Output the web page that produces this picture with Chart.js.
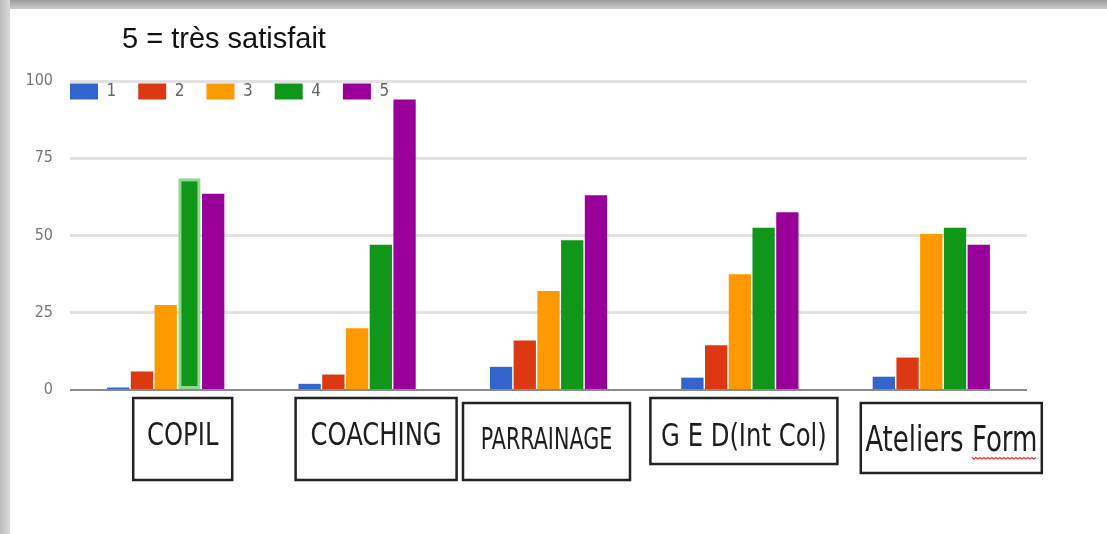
<!DOCTYPE html>
<html>
<head>
<meta charset="utf-8">
<script src="https://cdn.jsdelivr.net/npm/chart.js@4/dist/chart.umd.min.js"></script>
<style>
  body { margin: 0; background: #fff; }
  #wrap { position: relative; width: 1107px; height: 534px; overflow: hidden; background: #fff; }
  #title { position: absolute; left: 122px; top: 24px; font: 29px/29px 'Liberation Sans', Arial, sans-serif; color: #111; white-space: nowrap; }
  .edgeTop { position: absolute; left: 0; top: 0; width: 1107px; height: 9px; background: linear-gradient(#9c9c9c, #cdcdcd); }
  .edgeLeft { position: absolute; left: 0; top: 0; width: 10px; height: 534px; background: linear-gradient(90deg, #bcbcbc, #dadada); }
  canvas { position: absolute; left: 0; top: 0; }
</style>
</head>
<body>
<div id="wrap">
  <canvas id="chart" width="1107" height="534"></canvas>
  <div id="title">5 = très satisfait</div>
  <div class="edgeTop"></div>
  <div class="edgeLeft"></div>
</div>
<script>
const categories = ['COPIL', 'COACHING', 'PARRAINAGE', 'G E D(Int Col)', 'Ateliers Form'];
const seriesNames = ['1', '2', '3', '4', '5'];
const series1 = [0.8, 2, 7.5, 4, 4.3];
const series2 = [6, 5, 16, 14.5, 10.5];
const series3 = [27.5, 20, 32, 37.5, 50.5];
const series4 = [68.5, 47, 48.5, 52.5, 52.5];
const series5 = [63.5, 94, 63, 57.5, 47];
const yTicks = [0, 25, 50, 75, 100];

const colors = ['#3366cc', '#dc3912', '#ff9900', '#109618', '#990099'];
const narrow = "'Liberation Sans Narrow', 'Arial Narrow', 'DejaVu Sans Condensed', sans-serif";

// boxed category labels under the axis (offset from tick, box size, text size)
const boxStyles = [
  { dx: 17, w: 99, top: 398, h: 82, textY: 437, size: 27, sy: 1.2 },
  { dx: 19, w: 161, top: 398, h: 82, textY: 437, size: 27, sy: 1.2 },
  { dx: -2, w: 167, top: 403, h: 77, textY: 441, size: 23, sy: 1.3 },
  { dx: 4, w: 187, top: 398, h: 66, textY: 438, size: 27, sy: 1.2 },
  { dx: 20, w: 181, top: 403, h: 70, textY: 442, size: 29, sy: 1.2 }
];

const labelBoxes = {
  id: 'labelBoxes',
  afterDraw(chart) {
    const ctx = chart.ctx;
    const xs = chart.scales.x;
    boxStyles.forEach((b, i) => {
      const cx = xs.getPixelForValue(i) + b.dx;
      ctx.save();
      ctx.fillStyle = '#fff';
      ctx.fillRect(cx - b.w / 2, b.top, b.w, b.h);
      ctx.strokeStyle = '#222';
      ctx.lineWidth = 2.5;
      ctx.strokeRect(cx - b.w / 2, b.top, b.w, b.h);
      ctx.font = b.size + 'px ' + narrow;
      ctx.fillStyle = '#1e1e1e';
      ctx.textAlign = 'center';
      ctx.textBaseline = 'middle';
      ctx.translate(cx, b.textY);
      ctx.scale(1, b.sy);
      ctx.fillText(categories[i], 0, 0);
      if (i === categories.length - 1) {
        // spell-check squiggle under the last word
        const full = ctx.measureText(categories[i]).width;
        const words = categories[i].split(' ');
        const last = ctx.measureText(words[words.length - 1]).width;
        let x0 = full / 2 - last, y0 = b.size * 0.45;
        ctx.beginPath();
        ctx.strokeStyle = '#e03030';
        ctx.lineWidth = 1;
        for (let k = 0; x0 + k * 2 <= full / 2; k++) {
          const px = x0 + k * 2, py = y0 + (k % 2 ? 1.2 : -0.2);
          if (k === 0) ctx.moveTo(px, py); else ctx.lineTo(px, py);
        }
        ctx.stroke();
      }
      ctx.restore();
    });
  }
};

// legend sits inside the plot, in one row, at its top-left corner
const legendInside = {
  id: 'legendInside',
  afterInit(chart) {
    chart.legend.isHorizontal = () => true;
  },
  afterLayout(chart) {
    const lg = chart.legend;
    const pad = lg.options.labels.padding;
    lg.left = chart.chartArea.left - pad;
    lg.top = chart.chartArea.top + 2 - pad;
  }
};

const seriesData = [series1, series2, series3, series4, series5];

new Chart(document.getElementById('chart').getContext('2d'), {
  type: 'bar',
  data: {
    labels: categories,
    datasets: seriesData.map((d, i) => ({
      label: seriesNames[i],
      data: d,
      backgroundColor: colors[i],
      borderColor: i === 3 ? (c => c.dataIndex === 0 ? '#8fd88f' : colors[i]) : colors[i],
      borderWidth: i === 3 ? (c => c.dataIndex === 0 ? 3 : 0) : 0,
      borderSkipped: false,
      barPercentage: 0.94,
      categoryPercentage: 0.62
    }))
  },
  options: {
    responsive: false,
    animation: false,
    layout: { padding: { top: 81, bottom: 136, left: 0, right: 80 } },
    plugins: {
      title: { display: false },
      tooltip: { enabled: false },
      legend: {
        position: 'chartArea',
        align: 'start',
        labels: {
          boxWidth: 28,
          boxHeight: 16,
          padding: 22,
          color: '#666',
          font: { family: narrow, size: 17 },
          generateLabels: chart => Chart.defaults.plugins.legend.labels.generateLabels(chart)
            .map(item => Object.assign(item, { lineWidth: 0, strokeStyle: item.fillStyle }))
        }
      }
    },
    scales: {
      x: {
        grid: { display: false },
        border: { display: false },
        ticks: { display: false }
      },
      y: {
        min: 0,
        max: 100,
        afterBuildTicks: axis => { axis.ticks = yTicks.map(v => ({ value: v })); },
        afterFit: axis => { axis.width = 70; },
        border: { display: false },
        grid: {
          drawTicks: false,
          color: c => c.tick.value === 0 ? '#8a8a8a' : '#e2e2e2',
          lineWidth: c => c.tick.value === 0 ? 2 : 3
        },
        ticks: {
          padding: 17,
          color: '#777',
          font: { family: narrow, size: 16 }
        }
      }
    }
  },
  plugins: [labelBoxes, legendInside]
});
</script>
</body>
</html>
